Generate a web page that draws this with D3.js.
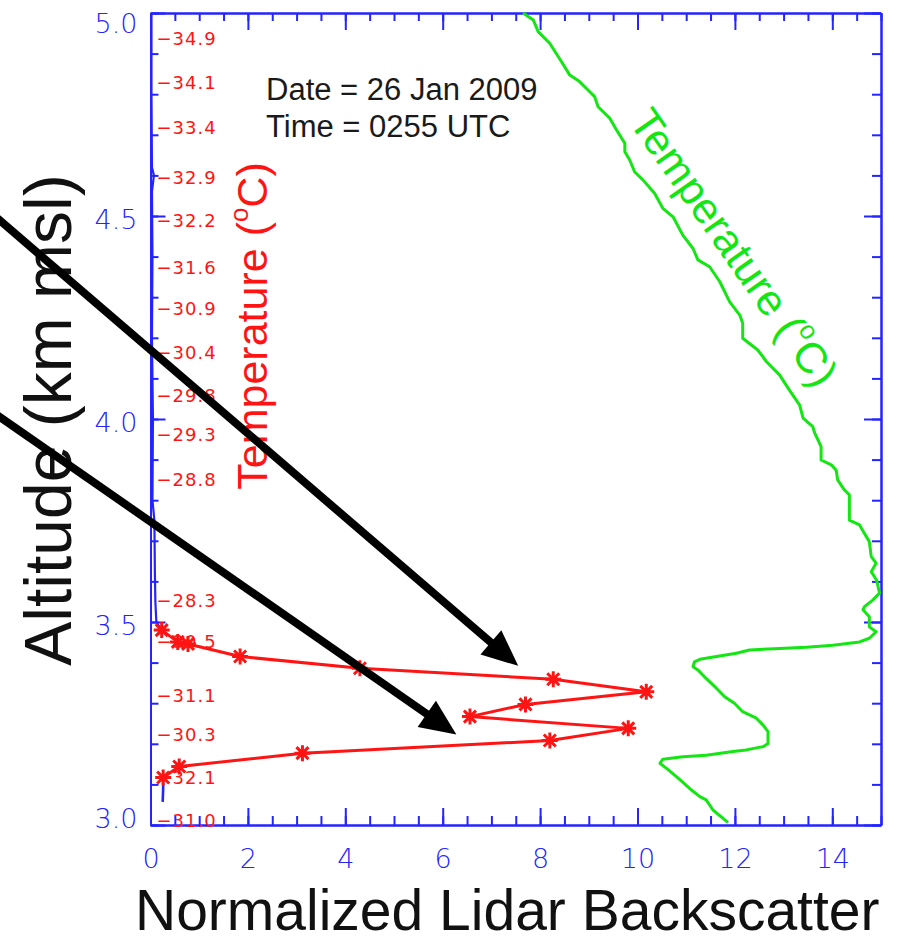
<!DOCTYPE html>
<html><head><meta charset="utf-8">
<script src="https://cdn.jsdelivr.net/npm/d3@7"></script>
<style>
html,body{margin:0;padding:0;background:#fff;}
svg{display:block;}
</style></head><body>
<svg id="chart" width="900" height="942"></svg>
<script>
// Cloud layer backscatter, drawn red with asterisk markers
const cloudAltitude = [3.480, 3.451, 3.446, 3.415, 3.386, 3.359, 3.328, 3.297, 3.267, 3.238, 3.208, 3.177, 3.144, 3.117];
const cloudBackscatter = [0.23, 0.56, 0.77, 1.84, 4.30, 8.27, 10.18, 7.70, 6.56, 9.81, 8.20, 3.12, 0.59, 0.26];

// Clear-air backscatter above and below the layer (blue)
const clearAltitudeAbove = [5.00, 4.80, 4.62, 4.60, 4.56, 4.40, 4.20, 4.00, 3.80, 3.75, 3.62, 3.55, 3.50, 3.480];
const clearBackscatterAbove = [0.02, 0.02, 0.03, 0.07, 0.03, 0.04, 0.03, 0.05, 0.04, 0.08, 0.09, 0.10, 0.12, 0.23];
const clearAltitudeBelow = [3.117, 3.090, 3.057];
const clearBackscatterBelow = [0.26, 0.26, 0.25];

// Sounding temperature profile (green), degrees C
const tempAltitude = [5.000, 4.983, 4.954, 4.925, 4.880, 4.847, 4.831, 4.806, 4.794, 4.769, 4.741, 4.712, 4.679, 4.658, 4.638, 4.609, 4.589, 4.556, 4.519, 4.498,
  4.453, 4.420, 4.392, 4.375, 4.338, 4.289, 4.256, 4.236, 4.199, 4.170, 4.141, 4.108, 4.071, 4.034, 4.002, 3.981, 3.965, 3.932, 3.899, 3.887,
  3.874, 3.850, 3.825, 3.813, 3.751, 3.739, 3.718, 3.698, 3.661, 3.645, 3.624, 3.603, 3.571, 3.554, 3.538, 3.530, 3.513, 3.488, 3.476, 3.460,
  3.451, 3.443, 3.438, 3.435, 3.431, 3.423, 3.415, 3.408, 3.402, 3.390, 3.382, 3.361, 3.337, 3.316, 3.300, 3.279, 3.263, 3.246, 3.230, 3.201,
  3.193, 3.185, 3.181, 3.172, 3.168, 3.162, 3.152, 3.140, 3.119, 3.090, 3.070, 3.062, 3.037, 3.017, 3.006];
const temperature = [-35.25, -35.04, -34.94, -34.70, -34.46, -34.29, -34.09, -33.88, -33.78, -33.71, -33.47, -33.33, -33.16, -33.16, -33.06, -32.96, -32.79, -32.55, -32.38, -32.17,
  -31.97, -31.76, -31.66, -31.42, -31.21, -31.01, -30.80, -30.74, -30.74, -30.43, -30.25, -29.98, -29.78, -29.57, -29.50, -29.30, -29.26, -29.13, -29.13, -28.92,
  -28.82, -28.79, -28.65, -28.55, -28.55, -28.34, -28.24, -28.14, -28.10, -28.00, -28.10, -27.99, -27.93, -28.07, -28.24, -28.27, -28.14, -28.14, -28.00, -28.14,
  -28.34, -28.89, -29.43, -29.98, -30.60, -30.87, -31.28, -31.62, -31.73, -31.76, -31.66, -31.49, -31.28, -31.11, -30.91, -30.74, -30.46, -30.32, -30.22, -30.22,
  -30.32, -30.67, -30.94, -31.49, -31.97, -32.38, -32.44, -32.31, -32.10, -31.83, -31.62, -31.49, -31.35, -31.15, -31.04];

// Temperature readouts printed along the left edge
const tempLabelAltitude = [4.938, 4.828, 4.717, 4.594, 4.490, 4.374, 4.273, 4.165, 4.059, 3.961, 3.850, 3.554, 3.453, 3.320, 3.222, 3.118, 3.012];
const tempLabelText = ["-34.9", "-34.1", "-33.4", "-32.9", "-32.2", "-31.6", "-30.9", "-30.4", "-29.8", "-29.3", "-28.8", "-28.3", "-30.5", "-31.1", "-30.3", "-32.1", "-31.0"];

// Axis ticks
const xTicks = [0, 2, 4, 6, 8, 10, 12, 14];
const xMinorTicks = d3.range(0, 15.01, 0.5);
const yTicks = [3.0, 3.5, 4.0, 4.5, 5.0];
const yMinorTicks = d3.range(3.0, 5.001, 0.1);

// Annotation arrows pointing at the two backscatter peaks (tail -> tip, data units)
const arrowTails = [[-3.2, 4.500], [-3.2, 4.014]];
const arrowTips = [[7.55, 3.392], [6.28, 3.223]];

const BLUE = "#2424ff", RED = "#ff1414", GREEN = "#14e614";
const svg = d3.select("#chart");
svg.append("rect").attr("width", 900).attr("height", 942).attr("fill", "#fff");

const L = 150.5, R = 881, T = 13, B = 825;
const x = d3.scaleLinear().domain([0, 15]).range([L, R]);
const xT = d3.scaleLinear().domain([-42.9, -27.9]).range([L, R]);
const y = d3.scaleLinear().domain([3, 5]).range([B, T]);

const tickFont = "'DejaVu Sans', sans-serif";

// Frame and ticks
function styleAxis(g) {
  g.selectAll("path.domain").attr("stroke", BLUE).attr("stroke-width", 2);
  g.selectAll(".tick line").attr("stroke", BLUE).attr("stroke-width", 2);
}
const gx = svg.append("g").attr("transform", `translate(0,${B})`);
gx.call(d3.axisBottom(x).tickValues(xMinorTicks).tickSize(-9).tickSizeOuter(0).tickFormat(""));
styleAxis(gx);
const gxM = svg.append("g").attr("transform", `translate(0,${B})`);
gxM.call(d3.axisBottom(x).tickValues(xTicks).tickSize(-17).tickSizeOuter(0).tickFormat(d3.format("d")));
styleAxis(gxM);
gxM.selectAll(".tick text").attr("fill", BLUE).attr("font-family", tickFont).attr("font-weight", 200)
  .attr("font-size", 27).attr("dy", null).attr("y", 33).attr("dominant-baseline", "central");

const gt = svg.append("g").attr("transform", `translate(0,${T})`);
gt.call(d3.axisTop(x).tickValues(xMinorTicks).tickSize(-8).tickSizeOuter(0).tickFormat(""));
styleAxis(gt);
const gtM = svg.append("g").attr("transform", `translate(0,${T})`);
gtM.call(d3.axisTop(x).tickValues(xTicks).tickSize(-17).tickSizeOuter(0).tickFormat(""));
styleAxis(gtM);

const gl = svg.append("g").attr("transform", `translate(${L},0)`);
gl.call(d3.axisLeft(y).tickValues(yMinorTicks).tickSize(-8).tickSizeOuter(0).tickFormat(""));
styleAxis(gl);
const glM = svg.append("g").attr("transform", `translate(${L},0)`);
glM.call(d3.axisLeft(y).tickValues(yTicks).tickSize(-15).tickSizeOuter(0).tickPadding(13).tickFormat(d3.format(".1f")));
styleAxis(glM);
glM.selectAll(".tick text").attr("fill", BLUE).attr("font-family", tickFont).attr("font-weight", 200)
  .attr("font-size", 27).attr("dy", null).attr("dominant-baseline", "central")
  .attr("y", d => {
    const yy = y(d) + 3;
    return Math.min(Math.max(yy, T + 10), B - 7) - y(d);
  });

const gr = svg.append("g").attr("transform", `translate(${R},0)`);
gr.call(d3.axisRight(y).tickValues(yMinorTicks).tickSize(-9).tickSizeOuter(0).tickFormat(""));
styleAxis(gr);
const grM = svg.append("g").attr("transform", `translate(${R},0)`);
grM.call(d3.axisRight(y).tickValues(yTicks).tickSize(-17).tickSizeOuter(0).tickFormat(""));
styleAxis(grM);

// Clear-air backscatter
const bsLine = d3.line().x(d => x(d[0])).y(d => y(d[1]));
svg.append("path").datum(d3.zip(clearBackscatterAbove, clearAltitudeAbove))
  .attr("d", bsLine).attr("fill", "none").attr("stroke", BLUE).attr("stroke-width", 2.2);
svg.append("path").datum(d3.zip(clearBackscatterBelow, clearAltitudeBelow))
  .attr("d", bsLine).attr("fill", "none").attr("stroke", BLUE).attr("stroke-width", 2.6);

// Temperature readouts
svg.append("g").selectAll("text").data(d3.zip(tempLabelAltitude, tempLabelText)).join("text")
  .attr("x", L + 6).attr("y", d => y(d[0]))
  .attr("dominant-baseline", "central")
  .attr("font-family", tickFont).attr("font-size", 18)
  .attr("letter-spacing", 1).attr("fill", RED)
  .text(d => d[1].replace("-", "\u2212"));

// Temperature profile
const tLine = d3.line().x(d => xT(d[0])).y(d => y(d[1]));
svg.append("path").datum(d3.zip(temperature, tempAltitude))
  .attr("d", tLine).attr("fill", "none").attr("stroke", GREEN).attr("stroke-width", 3)
  .attr("stroke-linejoin", "round");

// Cloud layer backscatter
const cloud = d3.zip(cloudBackscatter, cloudAltitude);
svg.append("path").datum(cloud).attr("d", bsLine).attr("fill", "none")
  .attr("stroke", RED).attr("stroke-width", 3).attr("stroke-linejoin", "round");
svg.append("g").selectAll("path").data(cloud).join("path")
  .attr("transform", d => `translate(${x(d[0])},${y(d[1])})`)
  .attr("d", "M-8,0H8M0,-8V8M-6,-6L6,6M-6,6L6,-6")
  .attr("stroke", RED).attr("stroke-width", 3).attr("fill", "none");

// Titles
const titleFont = "'Liberation Sans', Arial, sans-serif";
svg.append("text").attr("transform", "translate(71,420) rotate(-90)")
  .attr("text-anchor", "middle").attr("font-family", titleFont).attr("font-size", 66)
  .attr("fill", "#111").text("Altitude (km msl)");

svg.append("text").attr("x", 135).attr("y", 930)
  .attr("font-family", titleFont).attr("font-size", 57).attr("fill", "#111")
  .text("Normalized Lidar Backscatter");

function tempTitle(sel) {
  sel.append("tspan").text("Temperature (");
  sel.append("tspan").attr("font-size", "60%").attr("dy", "-0.75em").text("o");
  sel.append("tspan").attr("dy", "0.45em").text("C)");
}
svg.append("text").attr("transform", "translate(267,326) rotate(-90)")
  .attr("text-anchor", "middle").attr("font-family", titleFont).attr("font-size", 43)
  .attr("fill", RED).call(tempTitle);

svg.append("text").attr("transform", "translate(722,256) rotate(55)")
  .attr("text-anchor", "middle").attr("font-family", titleFont).attr("font-size", 43)
  .attr("fill", GREEN).call(tempTitle);

svg.append("text").attr("x", 266).attr("y", 100).attr("font-family", titleFont)
  .attr("font-size", 31).attr("fill", "#1a1a1a").text("Date = 26 Jan 2009");
svg.append("text").attr("x", 266).attr("y", 137).attr("font-family", titleFont)
  .attr("font-size", 31).attr("fill", "#1a1a1a").text("Time = 0255 UTC");

// Arrows
d3.zip(arrowTails, arrowTips).forEach(([t0, t1]) => {
  const x0 = x(t0[0]), y0 = y(t0[1]), x1 = x(t1[0]), y1 = y(t1[1]);
  const len = Math.hypot(x1 - x0, y1 - y0);
  const ux = (x1 - x0) / len, uy = (y1 - y0) / len;
  const px = -uy, py = ux;
  const headL = 36, headW = 16;
  const bx = x1 - ux * headL, by = y1 - uy * headL;
  svg.append("line").attr("x1", x0).attr("y1", y0).attr("x2", bx + ux * 4).attr("y2", by + uy * 4)
    .attr("stroke", "#000").attr("stroke-width", 8);
  svg.append("path")
    .attr("d", `M${x1},${y1}L${bx + px * headW},${by + py * headW}L${bx - px * headW},${by - py * headW}Z`)
    .attr("fill", "#000");
});
</script>
</body></html>
